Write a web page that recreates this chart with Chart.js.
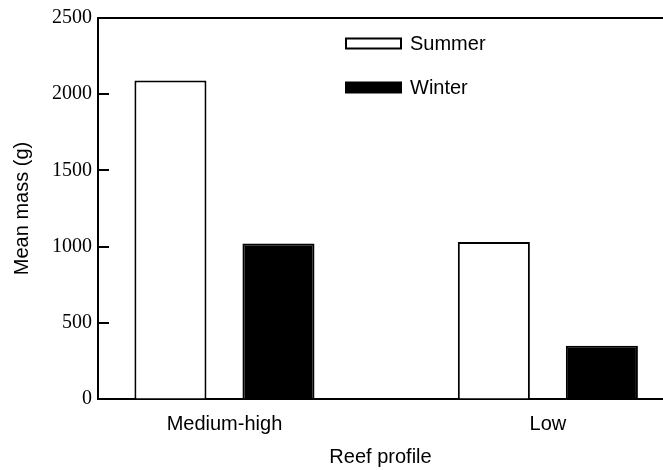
<!DOCTYPE html>
<html>
<head>
<meta charset="utf-8">
<script src="https://cdn.jsdelivr.net/npm/chart.js@4"></script>
<style>
  body { margin: 0; background: #fff; }
  #wrap { width: 663px; height: 470px; }
</style>
</head>
<body>
<div id="wrap"><canvas id="chart" width="663" height="470"></canvas></div>
<script>
// ── Datos ──────────────────────────────────────────────────────────────────
const profiles   = ['Medium-high', 'Low'];   // perfil del arrecife
const profilePos = [1, 2];                    // posición de cada grupo en el eje x
const summer     = [2090, 1030];              // masa media (g), verano
const winter     = [1020, 350];               // masa media (g), invierno
const yTicks     = [0, 500, 1000, 1500, 2000, 2500];

const SANS  = "'Liberation Sans', Arial, sans-serif";
const SERIF = "'Liberation Serif', 'Times New Roman', serif";

const toPoints = vals => vals.map((v, i) => ({ x: profilePos[i], y: v }));

// ── Plugins ────────────────────────────────────────────────────────────────
// marco superior + ticks hacia adentro en el eje y
const frame = {
  id: 'frame',
  afterDraw(chart) {
    const { ctx, chartArea: a, scales: { y } } = chart;
    ctx.save();
    ctx.strokeStyle = '#000';
    ctx.lineWidth = 2;
    ctx.beginPath();
    ctx.moveTo(a.left - 1, a.top);
    ctx.lineTo(a.right, a.top);
    y.ticks.forEach(t => {
      const py = Math.round(y.getPixelForValue(t.value));
      ctx.moveTo(a.left, py);
      ctx.lineTo(a.left + 11, py);
    });
    ctx.stroke();
    ctx.restore();
  }
};

// leyenda vertical dentro del área
const legendBox = {
  id: 'legendBox',
  afterDraw(chart) {
    const { ctx } = chart;
    ctx.save();
    ctx.font = `20px ${SANS}`;
    ctx.textBaseline = 'middle';
    chart.data.datasets.forEach((ds, i) => {
      const cy = 43.5 + i * 44;
      ctx.fillStyle = ds.backgroundColor;
      ctx.fillRect(346, cy - 5, 55, 10);
      ctx.lineWidth = 2;
      ctx.strokeStyle = '#000';
      ctx.strokeRect(346, cy - 5, 55, 10);
      ctx.fillStyle = '#000';
      ctx.fillText(ds.label, 410, cy + 1);
    });
    ctx.restore();
  }
};

// ── Gráfico ────────────────────────────────────────────────────────────────
new Chart(document.getElementById('chart'), {
  type: 'bar',
  data: {
    datasets: [
      {
        label: 'Summer',
        data: toPoints(summer),
        backgroundColor: '#ffffff',
        borderColor: '#000000',
        borderWidth: 2,
      },
      {
        label: 'Winter',
        data: toPoints(winter),
        backgroundColor: '#000000',
        borderColor: '#000000',
        borderWidth: 2,
      },
    ],
  },
  options: {
    responsive: false,
    animation: false,
    categoryPercentage: 0.668,
    barPercentage: 0.667,
    layout: { padding: { top: 16, left: 0, right: 0, bottom: 1 } },
    plugins: {
      legend: { display: false },
      tooltip: { enabled: false },
    },
    scales: {
      x: {
        type: 'linear',
        offset: false,
        min: 0.609,
        max: 2.356,
        z: 1,
        afterBuildTicks: s => { s.ticks = profilePos.map(v => ({ value: v })); },
        afterFit: s => { s.height = 70; },
        grid: { drawOnChartArea: false, drawTicks: false },
        border: { color: '#000', width: 2 },
        ticks: {
          padding: 13,
          color: '#000',
          font: { family: SANS, size: 20 },
          callback: v => profiles[profilePos.indexOf(v)] ?? '',
        },
        title: {
          display: true,
          text: 'Reef profile',
          color: '#000',
          font: { family: SANS, size: 20 },
          padding: { top: 0, bottom: 0 },
        },
      },
      y: {
        min: 0,
        max: 2500,
        afterBuildTicks: s => { s.ticks = yTicks.map(v => ({ value: v })); },
        afterFit: s => { s.width = 98; },
        grid: { drawOnChartArea: false, drawTicks: false },
        border: { color: '#000', width: 2 },
        ticks: {
          padding: 6,
          color: '#000',
          font: { family: SERIF, size: 20 },
          callback: v => String(v),
        },
        title: {
          display: true,
          text: 'Mean mass (g)',
          color: '#000',
          font: { family: SANS, size: 20 },
          padding: { top: 10, bottom: 0 },
        },
      },
    },
  },
  plugins: [frame, legendBox],
});
</script>
</body>
</html>
